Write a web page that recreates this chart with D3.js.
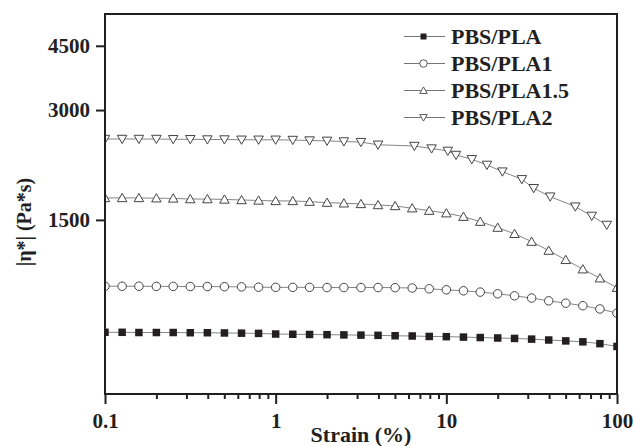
<!DOCTYPE html>
<html>
<head>
<meta charset="utf-8">
<script src="https://cdn.jsdelivr.net/npm/d3@7"></script>
<style>
  body { margin: 0; background: #fff; }
  text { font-family: "Liberation Serif", "Times New Roman", serif; font-weight: bold; fill: #231f20; }
</style>
</head>
<body>
<svg id="chart" width="634" height="446"></svg>
<script>
// strain grid shared by the first three samples (%)
const strain = [0.1, 0.126, 0.158, 0.2, 0.251, 0.316, 0.398, 0.501, 0.631, 0.794,
                1, 1.26, 1.58, 2, 2.51, 3.16, 3.98, 5.01, 6.31, 7.94,
                10, 12.6, 15.8, 20, 25.1, 31.6, 39.8, 50.1, 63.1, 79.4, 100];
// PBS/PLA2 was sampled on a slightly different grid above 4 %
const strainPLA2 = [0.1, 0.126, 0.158, 0.2, 0.251, 0.316, 0.398, 0.501, 0.631, 0.794,
                    1, 1.26, 1.58, 2, 2.51, 3.16, 3.98, 6.5, 8.2, 10.2, 11.4,
                    14.1, 17.3, 21.3, 27.7, 32.5, 40.6, 57, 71.1, 87.1];

const etaPLA = [738, 738, 737, 737, 737, 736, 736, 735, 734, 733,
                730, 729, 728, 727, 726, 725, 724, 722, 721, 719,
                718, 716, 714, 712, 710, 707, 703, 699, 695, 687, 675];
const etaPLA1 = [987, 987, 987, 986, 986, 985, 985, 984, 983, 981,
                 980, 980, 980, 979, 979, 979, 979, 978, 976, 971,
                 965, 959, 951, 941, 929, 916, 900, 887, 873, 855, 833];
const etaPLA15 = [1723, 1723, 1723, 1720, 1718, 1711, 1711, 1707, 1701, 1696,
                  1691, 1691, 1683, 1673, 1666, 1659, 1648, 1638, 1615, 1590,
                  1565, 1531, 1484, 1429, 1374, 1308, 1236, 1166, 1099, 1038, 978];
const etaPLA2 = [2499, 2499, 2499, 2499, 2495, 2495, 2491, 2491, 2487, 2487,
                 2487, 2483, 2475, 2470, 2460, 2450, 2410, 2391, 2353, 2318, 2259,
                 2199, 2122, 2034, 1938, 1832, 1737, 1631, 1538, 1453];

const seriesNames = ["PBS/PLA", "PBS/PLA1", "PBS/PLA1.5", "PBS/PLA2"];
const xTicks = [0.1, 1, 10, 100];
const yTicks = [1500, 3000, 4500];

const series = [
  { name: seriesNames[0], x: strain, y: etaPLA, shape: "square" },
  { name: seriesNames[1], x: strain, y: etaPLA1, shape: "circle" },
  { name: seriesNames[2], x: strain, y: etaPLA15, shape: "up" },
  { name: seriesNames[3], x: strainPLA2, y: etaPLA2, shape: "down" }
];

const ink = "#231f20";
const margin = { top: 14, right: 17, bottom: 52, left: 105 };
const svg = d3.select("#chart");
const width = 634 - margin.left - margin.right;
const height = 446 - margin.top - margin.bottom;

const x = d3.scaleLog().domain([0.1, 100]).range([0, width]);
const y = d3.scaleLog().domain([500, 5500]).range([height, 0]);

const g = svg.append("g").attr("transform", `translate(${margin.left},${margin.top})`);

g.append("clipPath").attr("id", "plot-clip")
  .append("rect").attr("width", width).attr("height", height);

// marker path for each shape
function markerPath(shape, s) {
  if (shape === "square") return `M${-s / 2},${-s / 2}h${s}v${s}h${-s}Z`;
  if (shape === "circle") return d3.symbol(d3.symbolCircle, Math.PI * (s / 2) * (s / 2))();
  const h = s * 0.87;
  if (shape === "up") return `M0,${-h * 0.55}L${s / 2},${h * 0.45}L${-s / 2},${h * 0.45}Z`;
  return `M0,${h * 0.55}L${s / 2},${-h * 0.45}L${-s / 2},${-h * 0.45}Z`;
}
const markerSize = { square: 7.5, circle: 8.5, up: 9.5, down: 9.5 };

const plot = g.append("g").attr("clip-path", "url(#plot-clip)");
const line = d3.line().x(d => x(d[0])).y(d => y(d[1]));

series.forEach(s => {
  const pts = s.x.map((v, i) => [v, s.y[i]]);
  plot.append("path")
    .datum(pts)
    .attr("d", line)
    .attr("fill", "none")
    .attr("stroke", "#777")
    .attr("stroke-width", 0.9);
  plot.selectAll(null)
    .data(pts)
    .join("path")
    .attr("transform", d => `translate(${x(d[0])},${y(d[1])})`)
    .attr("d", markerPath(s.shape, markerSize[s.shape]))
    .attr("fill", s.shape === "square" ? ink : "#fff")
    .attr("stroke", s.shape === "square" ? "none" : "#444")
    .attr("stroke-width", 1);
});

// frame
g.append("rect")
  .attr("width", width).attr("height", height)
  .attr("fill", "none").attr("stroke", ink).attr("stroke-width", 2);

// x axis with minor ticks
const xAll = [];
[0.1, 1, 10].forEach(d => { for (let k = 1; k < 10; k++) xAll.push(+(d * k).toPrecision(3)); });
xAll.push(100);
const xAxis = g.append("g")
  .attr("transform", `translate(0,${height})`)
  .call(d3.axisBottom(x).tickValues(xAll).tickSize(10)
    .tickFormat(d => xTicks.includes(d) ? d3.format("~g")(d) : ""));
xAxis.select(".domain").remove();
xAxis.selectAll(".tick line")
  .attr("stroke", ink).attr("stroke-width", 2)
  .attr("y2", d => xTicks.includes(d) ? 10 : 5);
xAxis.selectAll(".tick text")
  .attr("y", 34).attr("dy", 0)
  .attr("font-size", 21).attr("fill", ink)
  .style("font-family", "Liberation Serif, serif").style("font-weight", "bold");

// y axis
const yAxis = g.append("g")
  .call(d3.axisLeft(y).tickValues(yTicks).tickSize(9).tickPadding(6).tickFormat(d3.format("d")));
yAxis.select(".domain").remove();
yAxis.selectAll(".tick line").attr("stroke", ink).attr("stroke-width", 2);
yAxis.selectAll(".tick text")
  .attr("font-size", 21).attr("fill", ink)
  .style("font-family", "Liberation Serif, serif").style("font-weight", "bold");

// axis titles
svg.append("text")
  .attr("x", 361).attr("y", 442)
  .attr("text-anchor", "middle")
  .attr("font-size", 22)
  .text("Strain (%)");

svg.append("text")
  .attr("transform", "translate(31,222) rotate(-90)")
  .attr("text-anchor", "middle")
  .attr("font-size", 20)
  .text("|η*| (Pa*s)");

// legend
const legend = svg.append("g").attr("transform", "translate(404,36.5)");
series.forEach((s, i) => {
  const row = legend.append("g").attr("transform", `translate(0,${i * 27})`);
  row.append("line").attr("x1", 0).attr("x2", 41)
    .attr("stroke", "#666").attr("stroke-width", 0.9);
  row.append("path")
    .attr("transform", "translate(19.5,0)")
    .attr("d", markerPath(s.shape, s.shape === "square" ? 6 : 7.5))
    .attr("fill", s.shape === "square" ? ink : "#fff")
    .attr("stroke", s.shape === "square" ? "none" : "#444")
    .attr("stroke-width", 0.9);
  row.append("text")
    .attr("x", 47).attr("dy", "0.35em")
    .attr("font-size", 22)
    .text(s.name);
});
</script>
</body>
</html>
